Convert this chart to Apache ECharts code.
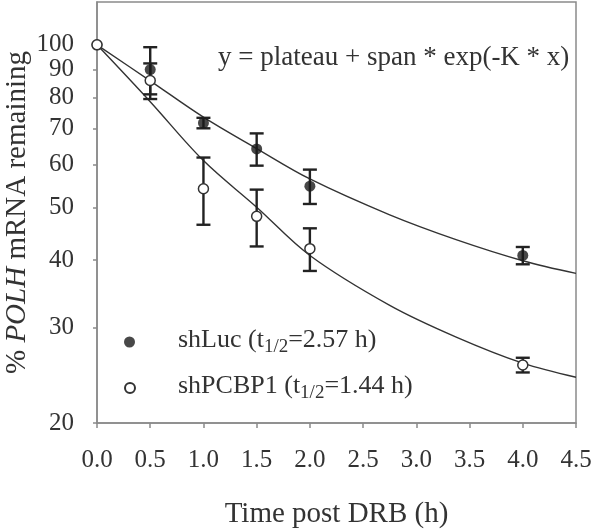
<!DOCTYPE html>
<html>
<head>
<meta charset="utf-8">
<script src="https://cdn.jsdelivr.net/npm/echarts@6/dist/echarts.min.js"></script>
<style>
html,body{margin:0;padding:0;background:#fff;}
#chart{width:600px;height:532px;}
</style>
</head>
<body>
<div id="chart"></div>
<script>
// ---- data ----
const timePoints = [0, 0.5, 1.0, 1.5, 2.0, 4.0];
const lucMean  = [100, 90.0, 71.7, 64.2, 54.8, 40.8];
const lucErr   = [0, 9.0, 1.6, 4.4, 4.0, 1.5];
const pcbpMean = [100, 85.9, 54.2, 48.2, 42.0, 25.6];
const pcbpErr  = [0, 6.5, 7.7, 5.8, 3.8, 0.8];

const fitX    = [0, 0.5, 1.0, 1.5, 2.0, 2.75, 3.38, 4.0, 4.5];
const lucFit  = [100, 85.8, 73.5, 64.3, 56.5, 48.5, 43.6, 39.9, 37.8];
const pcbpFit = [100, 78.5, 61.1, 50.1, 40.8, 33.0, 28.8, 25.8, 24.3];

const yTicks = [20, 30, 40, 50, 60, 70, 80, 90, 100];
const xTicks = [0, 0.5, 1.0, 1.5, 2.0, 2.5, 3.0, 3.5, 4.0, 4.5];

const seriesNames = ['shLuc', 'shPCBP1'];
const halfLives = ['2.57', '1.44'];
const equationText = 'y = plateau + span * exp(-K * x)';
const xName = 'Time post DRB (h)';

// ---- chart ----
const FONT = '"Liberation Serif", "Times New Roman", serif';
const TXT = '#333';
const AX = '#8a8a8a';

function pts(xs, ys) { return xs.map((x, i) => [x, ys[i]]); }
function errData(m, e) { return timePoints.map((t, i) => [t, m[i], e[i]]); }

function errRender(params, api) {
  const x = api.value(0), m = api.value(1), e = api.value(2);
  if (!e) return null;
  const top = api.coord([x, m + e]);
  const bot = api.coord([x, m - e]);
  const hw = 7;
  const st = { stroke: '#222', lineWidth: 2.4 };
  return {
    type: 'group',
    children: [
      { type: 'line', shape: { x1: top[0], y1: top[1], x2: bot[0], y2: bot[1] }, style: st },
      { type: 'line', shape: { x1: top[0] - hw, y1: top[1], x2: top[0] + hw, y2: top[1] }, style: st },
      { type: 'line', shape: { x1: bot[0] - hw, y1: bot[1], x2: bot[0] + hw, y2: bot[1] }, style: st }
    ]
  };
}

const legendRich = {
  sp: { width: 38, fontSize: 26, fontFamily: FONT },
  a: { fontSize: 26, fontFamily: FONT, color: TXT, lineHeight: 30, verticalAlign: 'top' },
  s: { fontSize: 19, fontFamily: FONT, color: TXT, lineHeight: 19, padding: [15, 0, 0, 0], verticalAlign: 'bottom' }
};
function legendFmt(name) {
  const i = seriesNames.indexOf(name);
  return '{sp|\u00a0}{a|' + name + ' (t}{s|1/2}{a|=' + halfLives[i] + ' h)}';
}

// y tick labels, keyed by tick value
function yLabel(v) {
  let best = yTicks[0];
  yTicks.forEach(t => { if (Math.abs(t - v) < Math.abs(best - v)) best = t; });
  return String(best);
}
// split the ticks over two overlaid axes so no label is dropped for crowding
const yTicksA = yTicks.filter((v, i) => i % 2 === 0);
const yTicksB = yTicks.filter((v, i) => i % 2 === 1);

function yAxisDef(ticks, withName) {
  const ax = {
    type: 'log', logBase: 10, min: 20, max: 120, position: 'left',
    axisLine: { show: withName, lineStyle: { color: AX, width: 1.5 } },
    axisTick: { show: true, inside: false, length: 4, lineStyle: { color: AX, width: 1.5 }, customValues: ticks },
    axisLabel: { fontFamily: FONT, fontSize: 25, color: TXT, margin: 23, customValues: ticks,
      hideOverlap: false, formatter: yLabel },
    splitLine: { show: false },
    minorTick: { show: false }
  };
  if (withName) {
    ax.name = '{a|% }{i|POLH}{a| mRNA remaining}';
    ax.nameLocation = 'middle';
    ax.nameGap = 65;
    ax.nameRotate = 90;
    ax.nameMoveOverlap = false;
    ax.nameTextStyle = { rich: {
      a: { fontFamily: FONT, fontSize: 29, color: TXT },
      i: { fontFamily: FONT, fontSize: 29, color: TXT, fontStyle: 'italic' }
    } };
  }
  return ax;
}

const chart = echarts.init(document.getElementById('chart'), null, { renderer: 'canvas' });
chart.setOption({
  animation: false,
  backgroundColor: '#fff',
  textStyle: { fontFamily: FONT },
  title: {
    text: equationText,
    left: 218, top: 44, padding: 0,
    textStyle: { fontFamily: FONT, fontSize: 27, fontWeight: 'normal', color: TXT }
  },
  legend: [
    { data: [seriesNames[0]], left: 124, top: 323, padding: 0, itemWidth: 11, itemHeight: 11,
      formatter: legendFmt, textStyle: { rich: legendRich } },
    { data: [seriesNames[1]], left: 124, top: 369, padding: 0, itemWidth: 10, itemHeight: 10,
      formatter: legendFmt, textStyle: { rich: legendRich } }
  ],
  grid: { left: 97, right: 24, top: 2, bottom: 109, show: true, borderColor: AX, borderWidth: 1.5,
    containLabel: false, outerBoundsMode: 'none' },
  xAxis: {
    type: 'value', min: 0, max: 4.5, interval: 0.5,
    name: xName, nameLocation: 'middle', nameGap: 77, nameMoveOverlap: false,
    nameTextStyle: { fontFamily: FONT, fontSize: 29, color: TXT },
    axisLine: { show: true, lineStyle: { color: AX, width: 1.5 } },
    axisTick: { show: true, inside: false, length: 5, lineStyle: { color: AX, width: 1.5 }, customValues: xTicks },
    axisLabel: { fontFamily: FONT, fontSize: 25, color: TXT, margin: 25, customValues: xTicks,
      formatter: v => Number(v).toFixed(1) },
    splitLine: { show: false }
  },
  yAxis: [yAxisDef(yTicksA, true), yAxisDef(yTicksB, false)],
  series: [
    { name: 'fitLuc', type: 'line', data: pts(fitX, lucFit), smooth: 0.35, symbol: 'none',
      lineStyle: { color: '#333', width: 1.4 }, z: 2, silent: true },
    { name: 'fitPCBP', type: 'line', data: pts(fitX, pcbpFit), smooth: 0.35, symbol: 'none',
      lineStyle: { color: '#333', width: 1.4 }, z: 2, silent: true },
    { name: 'errLuc', type: 'custom', renderItem: errRender, data: errData(lucMean, lucErr),
      encode: { x: 0, y: 1 }, z: 3 },
    { name: 'errPCBP', type: 'custom', renderItem: errRender, data: errData(pcbpMean, pcbpErr),
      encode: { x: 0, y: 1 }, z: 3 },
    { name: seriesNames[0], type: 'scatter', data: pts(timePoints, lucMean), symbol: 'circle', symbolSize: 11,
      itemStyle: { color: '#1a1a1a', borderColor: '#1a1a1a', borderWidth: 0 }, z: 4 },
    { name: seriesNames[1], type: 'scatter', data: pts(timePoints, pcbpMean), symbol: 'circle', symbolSize: 10,
      itemStyle: { color: '#fff', borderColor: '#333', borderWidth: 1.5, opacity: 1 }, z: 5 }
  ]
});
</script>
</body>
</html>
